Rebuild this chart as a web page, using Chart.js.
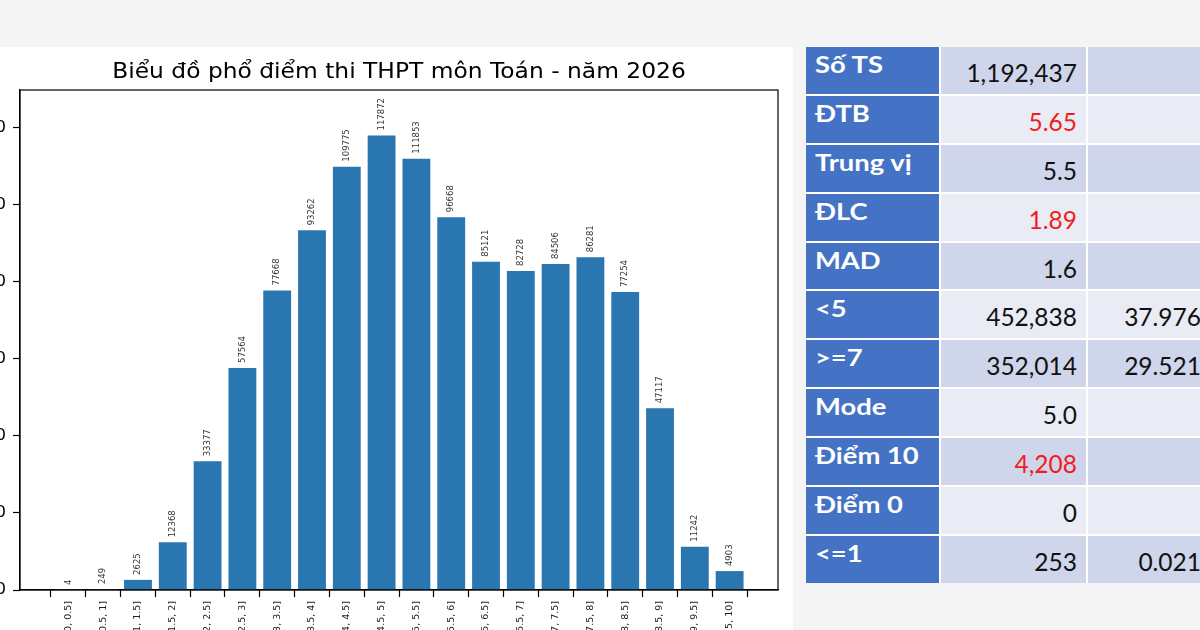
<!DOCTYPE html>
<html>
<head>
<meta charset="utf-8">
<script src="https://cdn.jsdelivr.net/npm/chart.js@4.4.1/dist/chart.umd.min.js"></script>
<style>
   body {
      margin: 0;
      width: 1200px;
      height: 630px;
      overflow: hidden;
      position: relative;
      background: #f4f4f4;
   }
   #panel {
      position: absolute;
      left: 0;
      top: 47px;
      width: 793px;
      height: 583px;
      background: #fff;
      overflow: hidden;
   }
   #chartBox {
      position: absolute;
      left: -60px;
      top: 0;
      width: 850px;
      height: 620px;
   }
   #stats {
      position: absolute;
      left: 806px;
      top: 47px;
      display: grid;
      grid-template-columns: 133px 145px 122px;
      grid-auto-rows: 46.9px;
      gap: 2px;
      background: #fff;
      font-family: Lato, "Open Sans", sans-serif;
   }
   #stats div {
      position: relative;
      box-sizing: border-box;
      white-space: nowrap;
   }
   #stats span {
      display: inline-block;
   }
   #stats .lbl {
      background: #4472c4;
      color: #fff;
      font-weight: bold;
      font-size: 23px;
      padding: 6px 0 0 9px;
      line-height: 1;
   }
   #stats .lbl span {
      transform: scaleX(1.19);
      transform-origin: left center;
   }
   #stats .val {
      font-size: 24.5px;
      text-align: right;
      padding: 14px 9px 0 0;
      line-height: 1;
      color: #111;
   }
   #stats .dark { background: #cfd5ea; }
   #stats .light { background: #e9ebf5; }
   #stats .red { color: #f21c1c; }
</style>
</head>
<body>
<div id="panel">
   <div id="chartBox"><canvas id="chart1" width="850" height="620"></canvas></div>
</div>
<div id="stats"></div>
<script>
const binLabels = [
   `(0, 0.5]`, `(0.5, 1]`, `(1, 1.5]`, `(1.5, 2]`, `(2, 2.5]`,
   `(2.5, 3]`, `(3, 3.5]`, `(3.5, 4]`, `(4, 4.5]`, `(4.5, 5]`,
   `(5, 5.5]`, `(5.5, 6]`, `(6, 6.5]`, `(6.5, 7]`, `(7, 7.5]`,
   `(7.5, 8]`, `(8, 8.5]`, `(8.5, 9]`, `(9, 9.5]`, `(9.5, 10]`,
];
const binCounts = [
   4, 249, 2625, 12368, 33377,
   57564, 77668, 93262, 109775, 117872,
   111853, 96668, 85121, 82728, 84506,
   86281, 77254, 47117, 11242, 4903,
];
const yTicks = [0, 20000, 40000, 60000, 80000, 100000, 120000];
const chartTitle = `Biểu đồ phổ điểm thi THPT môn Toán - năm 2026`;

const statLabels = [`Số TS`, `ĐTB`, `Trung vị`, `ĐLC`, `MAD`, `<5`, `>=7`, `Mode`, `Điểm 10`, `Điểm 0`, `<=1`];
const statValues = [`1,192,437`, `5.65`, `5.5`, `1.89`, `1.6`, `452,838`, `352,014`, `5.0`, `4,208`, `0`, `253`];
const statPercents = [``, ``, ``, ``, ``, `37.976`, `29.521`, ``, ``, ``, `0.021`];
const statRed = [false, true, false, true, false, false, false, false, true, false, false];

const barColor = `#2a76b1`;
const fontFamily = `"DejaVu Sans", sans-serif`;

// bar value labels, rotated like the matplotlib ones
const barLabels = {
   id: `barLabels`,
   afterDatasetsDraw(chart) {
      const ctx = chart.ctx;
      const bars = chart.getDatasetMeta(0).data;
      ctx.save();
      ctx.font = `8.5px ${fontFamily}`;
      ctx.fillStyle = `#333`;
      ctx.textAlign = `left`;
      ctx.textBaseline = `middle`;
      bars.forEach((bar, i) => {
         ctx.save();
         ctx.translate(bar.x, bar.y - 5);
         ctx.rotate(-Math.PI / 2);
         ctx.fillText(String(binCounts[i]), 0, 0);
         ctx.restore();
      });
      ctx.restore();
   }
};

// box around the axes + title centred on the axes (source image is a bit stretched sideways)
const axesFrame = {
   id: `axesFrame`,
   afterDraw(chart) {
      const { ctx, chartArea } = chart;
      ctx.save();
      ctx.strokeStyle = `#000`;
      ctx.lineWidth = 1.2;
      ctx.strokeRect(chartArea.left, chartArea.top, chartArea.right - chartArea.left, chartArea.bottom - chartArea.top);

      ctx.translate((chartArea.left + chartArea.right) / 2, chartArea.top - 11.7);
      ctx.scale(1.14, 1);
      ctx.font = `20.5px ${fontFamily}`;
      ctx.fillStyle = `#000`;
      ctx.textAlign = `center`;
      ctx.textBaseline = `alphabetic`;
      ctx.fillText(chartTitle, 0, 0);
      ctx.restore();
   }
};

function drawChart(canva) {
   const yMax = Math.max(...binCounts) * 1.1;
   const config = {
      type: `bar`,
      data: {
         datasets: [{
            data: binCounts.map((v, i) => ({ x: i, y: v })),
            backgroundColor: barColor,
            borderWidth: 0,
            barPercentage: 0.8,
            categoryPercentage: 1.0,
         }]
      },
      options: {
         responsive: false,
         animation: false,
         layout: {
            padding: { left: 0, right: 12, top: 43, bottom: 0 }
         },
         plugins: {
            legend: { display: false },
            tooltip: { enabled: false },
            title: { display: false }
         },
         scales: {
            x: {
               type: `linear`,
               min: -1.39,
               max: 20.39,
               offset: false,
               afterBuildTicks: (scale) => {
                  scale.ticks = binLabels.map((_, i) => ({ value: i }));
               },
               afterFit: (scale) => { scale.height = 77; },
               grid: {
                  drawOnChartArea: false,
                  drawTicks: true,
                  tickLength: 7,
                  tickWidth: 1.2,
                  tickColor: `#000`,
               },
               border: { display: true, color: `#000`, width: 1.2 },
               ticks: {
                  autoSkip: false,
                  minRotation: 90,
                  maxRotation: 90,
                  padding: 4,
                  color: `#222`,
                  font: { size: 9.5, family: fontFamily },
                  callback: (v) => binLabels[v]
               }
            },
            y: {
               min: 0,
               max: yMax,
               afterBuildTicks: (scale) => {
                  scale.ticks = yTicks.map((v) => ({ value: v }));
               },
               afterFit: (scale) => { scale.width = 80; },
               grid: {
                  drawOnChartArea: false,
                  drawTicks: true,
                  tickLength: 7,
                  tickWidth: 1.2,
                  tickColor: `#000`,
               },
               border: { display: true, color: `#000`, width: 1.2 },
               ticks: {
                  padding: 7,
                  color: `#000`,
                  font: { size: 16.5, family: fontFamily },
                  callback: (v) => String(v)
               }
            }
         }
      },
      plugins: [barLabels, axesFrame]
   };
   return new Chart(canva, config);
}

function makeCell(cls, text) {
   const cell = document.createElement(`div`);
   cell.className = cls;
   const span = document.createElement(`span`);
   span.textContent = text;
   cell.append(span);
   return cell;
}

function buildStats() {
   const box = document.querySelector(`#stats`);
   for (let i = 0; i < statLabels.length; i++) {
      const shade = i % 2 === 0 ? `dark` : `light`;
      box.append(
         makeCell(`lbl`, statLabels[i]),
         makeCell(`val ${shade}` + (statRed[i] ? ` red` : ``), statValues[i]),
         makeCell(`val ${shade}`, statPercents[i])
      );
   }
}

buildStats();
drawChart(document.querySelector(`#chart1`));
</script>
</body>
</html>
